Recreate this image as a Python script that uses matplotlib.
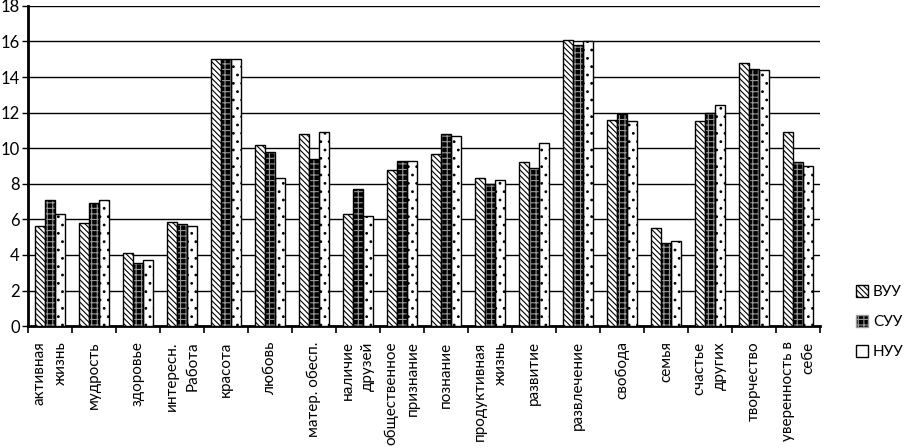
import numpy as np
import matplotlib.pyplot as plt
from matplotlib.patches import Patch

plt.rcParams['font.family'] = ['Lato', 'DejaVu Sans']
plt.rcParams['hatch.linewidth'] = 0.8

categories = ['активная\nжизнь', 'мудрость', 'здоровье', 'интересн.\nРабота', 'красота',
              'любовь', 'матер. обесп.', 'наличие\nдрузей', 'общественное\nпризнание',
              'познание', 'продуктивная\nжизнь', 'развитие', 'развлечение', 'свобода',
              'семья', 'счастье\nдругих', 'творчество', 'уверенность в\nсебе']

vuu = [5.6, 5.8, 4.1, 5.85, 15.0, 10.2, 10.8, 6.3, 8.8, 9.7, 8.3, 9.2, 16.1, 11.6, 5.5, 11.5, 14.8, 10.9]
suu = [7.1, 6.9, 3.55, 5.75, 15.0, 9.8, 9.4, 7.7, 9.3, 10.8, 8.0, 8.9, 15.8, 11.9, 4.7, 12.0, 14.45, 9.2]
nuu = [6.3, 7.1, 3.7, 5.65, 15.0, 8.3, 10.9, 6.2, 9.3, 10.7, 8.2, 10.3, 16.0, 11.5, 4.8, 12.4, 14.4, 9.0]

fig = plt.figure(figsize=(9.05, 4.48), dpi=100)
ax = fig.add_axes([0.031, 0.272, 0.875, 0.715])

x = np.arange(len(categories))
w = 0.225

# ВУУ - diagonal hatch
ax.bar(x - w, vuu, w, color='white', edgecolor='black', hatch='\\\\\\\\\\\\', linewidth=1, zorder=3)
# СУУ - dark checkered
ax.bar(x, suu, w, color='black', edgecolor='#999999', hatch='+++', linewidth=0, zorder=3)
ax.bar(x, suu, w, fill=False, edgecolor='black', linewidth=1, zorder=4)
# НУУ - sparse dots
ax.bar(x + w, nuu, w, color='white', edgecolor='black', hatch='..', linewidth=1, zorder=3)

ax.set_xlim(-0.5, len(categories) - 0.5)
ax.set_ylim(0, 18)
ax.set_yticks(np.arange(0, 19, 2))
ax.yaxis.grid(True, color='black', linewidth=1)
ax.set_axisbelow(True)

ax.set_xticks(x)
ax.set_xticklabels(categories, rotation=90, fontsize=11, va='top', ha='center',
                   multialignment='right', linespacing=1.6)
ax.tick_params(axis='x', length=0, pad=11)
ax.set_xticks(np.arange(-0.5, len(categories), 1), minor=True)
ax.tick_params(axis='x', which='minor', length=5, width=1.2, direction='out')
ax.tick_params(axis='y', length=4, width=1, labelsize=12, pad=2)

for s in ['top', 'right']:
    ax.spines[s].set_visible(False)
ax.spines['left'].set_linewidth(2)
ax.spines['bottom'].set_linewidth(2)

handles = [Patch(facecolor='white', edgecolor='black', hatch='\\\\\\\\\\\\', label='ВУУ'),
           Patch(facecolor='black', edgecolor='#999999', hatch='+++', label='СУУ'),
           Patch(facecolor='white', edgecolor='black', label='НУУ')]
fig.legend(handles=handles, loc='center left', bbox_to_anchor=(0.946, 0.281), frameon=False,
           fontsize=11, handlelength=0.8, handleheight=0.8, handletextpad=0.3,
           labelspacing=1.05, borderpad=0, borderaxespad=0)

plt.savefig('out.png', dpi=100)
